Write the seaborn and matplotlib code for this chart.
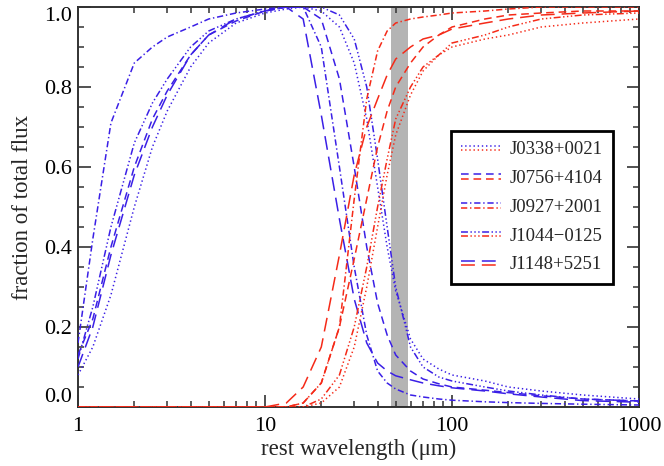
import matplotlib
matplotlib.use("Agg")
import numpy as np
import pandas as pd
import matplotlib.pyplot as plt
import seaborn as sns
from matplotlib.legend_handler import HandlerBase
from matplotlib.lines import Line2D
from matplotlib.transforms import blended_transform_factory
from matplotlib.ticker import FixedLocator, MultipleLocator, LogLocator, NullFormatter, FixedFormatter

# ---------------- data ----------------
wavelength = [1, 1.2, 1.5, 2, 2.5, 3, 4, 5, 7, 10, 13, 16, 20, 25, 30, 35, 40, 45,
              50, 60, 70, 85, 100, 150, 200, 300, 500, 1000]

sources = ["J0338+0021", "J0756+4104", "J0927+2001", "J1044\u22120125", "J1148+5251"]

# blue (short-wavelength) component, fraction of total flux
blue_J0338 = [0.08, 0.15, 0.28, 0.50, 0.65, 0.74, 0.85, 0.91, 0.96, 0.985, 0.995, 1.0, 0.99,
              0.95, 0.86, 0.72, 0.55, 0.40, 0.29, 0.17, 0.12, 0.095, 0.08, 0.065, 0.05, 0.04, 0.03, 0.02]
blue_J0756 = [0.13, 0.22, 0.40, 0.60, 0.72, 0.79, 0.88, 0.93, 0.965, 0.99, 1.0, 1.0, 0.97,
              0.82, 0.60, 0.40, 0.26, 0.18, 0.13, 0.09, 0.07, 0.058, 0.05, 0.042, 0.036, 0.028, 0.02, 0.015]
blue_J0927 = [0.16, 0.42, 0.71, 0.86, 0.90, 0.925, 0.95, 0.97, 0.985, 0.995, 1.0, 1.0, 0.90,
              0.60, 0.35, 0.18, 0.09, 0.06, 0.045, 0.03, 0.025, 0.02, 0.017, 0.013, 0.011, 0.009, 0.007, 0.005]
blue_J1044 = [0.12, 0.25, 0.45, 0.66, 0.76, 0.82, 0.90, 0.94, 0.97, 0.99, 1.0, 1.0, 1.0,
              0.98, 0.92, 0.80, 0.62, 0.45, 0.30, 0.15, 0.10, 0.075, 0.065, 0.05, 0.04, 0.03, 0.02, 0.015]
blue_J1148 = [0.10, 0.20, 0.38, 0.58, 0.70, 0.78, 0.88, 0.93, 0.97, 0.99, 1.0, 0.97, 0.73,
              0.47, 0.27, 0.16, 0.11, 0.09, 0.078, 0.068, 0.06, 0.053, 0.048, 0.04, 0.033, 0.025, 0.016, 0.012]

# red (long-wavelength) component, fraction of total flux
red_J0338 = [0, 0, 0, 0, 0, 0, 0, 0, 0, 0, 0, 0.0, 0.01,
             0.05, 0.15, 0.30, 0.45, 0.58, 0.68, 0.78, 0.84, 0.88, 0.90, 0.92, 0.93, 0.95, 0.96, 0.97]
red_J0756 = [0, 0, 0, 0, 0, 0, 0, 0, 0, 0, 0, 0.01, 0.06,
             0.20, 0.37, 0.52, 0.65, 0.74, 0.80, 0.86, 0.90, 0.93, 0.95, 0.97, 0.98, 0.985, 0.99, 0.99]
red_J0927 = [0, 0, 0, 0, 0, 0, 0, 0, 0, 0, 0, 0.01, 0.06,
             0.20, 0.52, 0.77, 0.89, 0.94, 0.96, 0.97, 0.975, 0.98, 0.985, 0.99, 0.995, 1.0, 1.0, 1.0]
red_J1044 = [0, 0, 0, 0, 0, 0, 0, 0, 0, 0, 0, 0.0, 0.02,
             0.08, 0.20, 0.35, 0.50, 0.62, 0.72, 0.80, 0.85, 0.88, 0.91, 0.93, 0.95, 0.97, 0.98, 0.985]
red_J1148 = [0, 0, 0, 0, 0, 0, 0, 0, 0, 0, 0.01, 0.05, 0.15,
             0.38, 0.58, 0.70, 0.77, 0.83, 0.87, 0.90, 0.92, 0.93, 0.945, 0.96, 0.97, 0.98, 0.985, 0.99]

blue_series = [blue_J0338, blue_J0756, blue_J0927, blue_J1044, blue_J1148]
red_series = [red_J0338, red_J0756, red_J0927, red_J1044, red_J1148]

band_range = (47, 58)   # shaded wavelength band (micron)

y_ticks = [0.0, 0.2, 0.4, 0.6, 0.8, 1.0]
x_ticks = [1, 10, 100, 1000]

# ---------------- style ----------------
BLUE = "#3a1fe6"
RED = "#f52a18"
TICK_C = "#333333"
dash_map = {
    sources[0]: (1.0, 2.0),
    sources[1]: (5.5, 3.5),
    sources[2]: (4.5, 2.0, 1.0, 2.0),
    sources[3]: (5.0, 1.8, 1.0, 1.8, 1.0, 1.8, 1.0, 1.8),
    sources[4]: (10.0, 5.0),
}

sns.set_theme(style="ticks")
plt.rcParams.update({
    "font.family": ["Liberation Serif", "DejaVu Serif"],
    "lines.scale_dashes": False,
    "axes.axisbelow": False,
})

rows = []
for src, b, r in zip(sources, blue_series, red_series):
    for w, vb, vr in zip(wavelength, b, r):
        rows.append({"wavelength": w, "fraction": vb, "component": "blue", "source": src})
        rows.append({"wavelength": w, "fraction": vr, "component": "red", "source": src})
df = pd.DataFrame(rows)

fig = plt.figure(figsize=(6.64, 4.66), dpi=100)
ax = fig.add_axes([78 / 664, 1 - 407 / 466, (639 - 78) / 664, 400 / 466])

ax.axvspan(band_range[0], band_range[1], color="#b4b4b4", lw=0, zorder=0)

sns.lineplot(data=df, x="wavelength", y="fraction", hue="component", style="source",
             palette={"blue": BLUE, "red": RED}, dashes=dash_map,
             hue_order=["blue", "red"], style_order=sources,
             estimator=None, sort=False, legend=False, linewidth=1.1, ax=ax, zorder=3)

ax.set_xscale("log")
ax.set_xlim(1, 1000)
ax.set_ylim(0, 1.0)

ax.xaxis.set_major_locator(FixedLocator(x_ticks))
ax.xaxis.set_major_formatter(FixedFormatter([str(t) for t in x_ticks]))
ax.xaxis.set_minor_locator(LogLocator(base=10, subs=np.arange(2, 10), numticks=20))
ax.xaxis.set_minor_formatter(NullFormatter())
ax.yaxis.set_major_locator(FixedLocator(y_ticks))
ax.yaxis.set_major_formatter(FixedFormatter([f"{t:.1f}" for t in y_ticks]))
ax.yaxis.set_minor_locator(MultipleLocator(0.05))

# top / right ticks drawn by the axis; bottom / left tick marks drawn explicitly below
ax.tick_params(which="both", direction="in", top=True, right=True, bottom=False, left=False,
               labelbottom=True, labelleft=True, color=TICK_C, labelsize=16, labelcolor="black")
ax.tick_params(which="major", length=9, width=1.2)
ax.tick_params(which="minor", length=4.5, width=1.1)
ax.tick_params(axis="x", which="both", pad=7)
ax.tick_params(axis="y", which="both", pad=4)

MAJ_PX, MIN_PX = 12.5, 6.2
ax_w_px, ax_h_px = 561.0, 400.0
tr_x = blended_transform_factory(ax.transData, ax.transAxes)
tr_y = blended_transform_factory(ax.transAxes, ax.transData)
xmaj = [v for v in ax.xaxis.get_majorticklocs() if 1 <= v <= 1000]
xmin = [v for v in ax.xaxis.get_minorticklocs() if 1 <= v <= 1000]
ymaj = list(ax.yaxis.get_majorticklocs())
ymin = [v for v in ax.yaxis.get_minorticklocs() if 0 <= v <= 1]
ax.vlines(xmaj, 0, MAJ_PX / ax_h_px, transform=tr_x, colors=TICK_C, lw=1.2, zorder=2.6, clip_on=False)
ax.vlines(xmin, 0, MIN_PX / ax_h_px, transform=tr_x, colors=TICK_C, lw=1.1, zorder=2.6, clip_on=False)
ax.hlines(ymaj, 0, MAJ_PX / ax_w_px, transform=tr_y, colors=TICK_C, lw=1.2, zorder=2.6, clip_on=False)
ax.hlines(ymin, 0, MIN_PX / ax_w_px, transform=tr_y, colors=TICK_C, lw=1.1, zorder=2.6, clip_on=False)

for sp in ax.spines.values():
    sp.set_linewidth(1.3)
    sp.set_color("#222222")

ax.set_xlabel("rest wavelength (\u03bcm)", fontsize=16.5, labelpad=2)
ax.set_ylabel("fraction of total flux", fontsize=16.5, labelpad=8)


class PairHandler(HandlerBase):
    def create_artists(self, legend, orig_handle, xdescent, ydescent, width, height,
                       fontsize, trans):
        yc = (height - ydescent) / 2.0
        arts = []
        for h, dy in zip(orig_handle, (1.6, -1.6)):
            ln = Line2D([-xdescent, -xdescent + width], [yc + dy, yc + dy])
            ln.update_from(h)
            ln.set_transform(trans)
            arts.append(ln)
        return arts


handles = []
for src in sources:
    hb = Line2D([], [], color=BLUE, lw=1.1, linestyle=(0, dash_map[src]))
    hr = Line2D([], [], color=RED, lw=1.1, linestyle=(0, dash_map[src]))
    handles.append((hb, hr))

leg = ax.legend(handles, sources, handler_map={tuple: PairHandler()},
                loc="upper left", bbox_to_anchor=(0.665, 0.69), frameon=True,
                fancybox=False, edgecolor="black", framealpha=1, fontsize=13.5,
                handlelength=2.1, handletextpad=0.45, borderpad=0.55,
                labelspacing=0.62, borderaxespad=0)
leg.get_frame().set_linewidth(2.0)
leg.set_zorder(5)

fig.canvas.draw()
ylabels = ax.get_yticklabels()
ylabels[0].set_verticalalignment("bottom")
ylabels[-1].set_verticalalignment("top")

fig.savefig("out.png", dpi=100)
